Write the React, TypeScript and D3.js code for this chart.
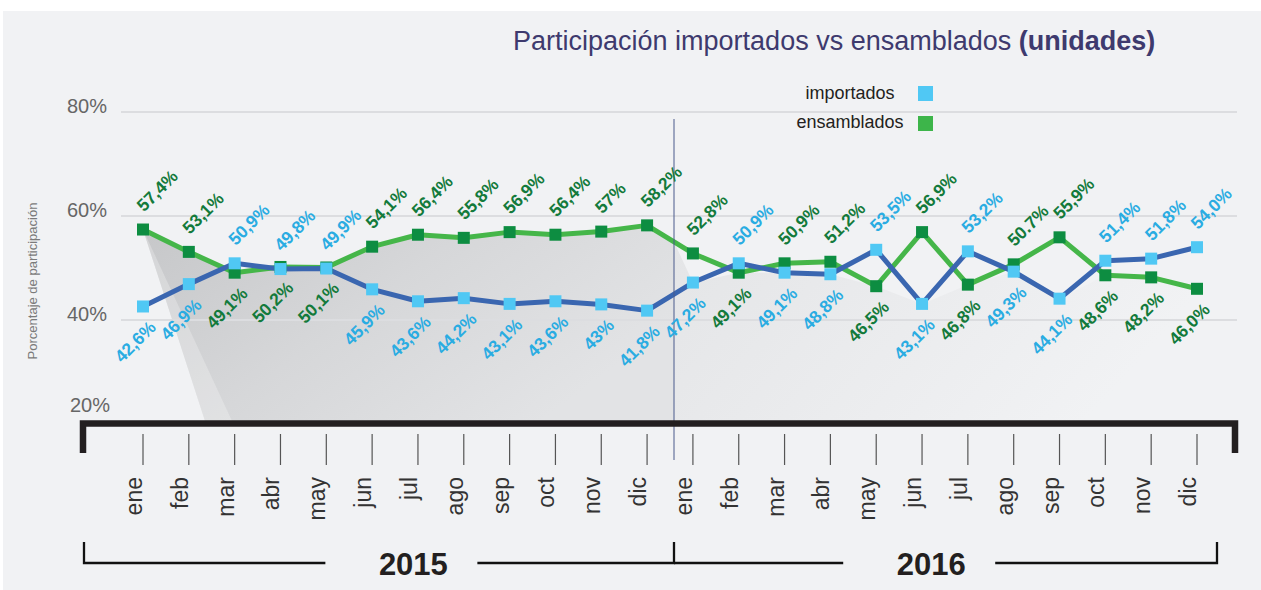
import React from 'react';
import * as d3 from 'd3';

const meses = ['ene', 'feb', 'mar', 'abr', 'may', 'jun', 'jul', 'ago', 'sep', 'oct', 'nov', 'dic'];
const anios = ['2015', '2016'];

const importados = [
  42.6, 46.9, 50.9, 49.8, 49.9, 45.9, 43.6, 44.2, 43.1, 43.6, 43.0, 41.8,
  47.2, 50.9, 49.1, 48.8, 53.5, 43.1, 53.2, 49.3, 44.1, 51.4, 51.8, 54.0,
];
const ensamblados = [
  57.4, 53.1, 49.1, 50.2, 50.1, 54.1, 56.4, 55.8, 56.9, 56.4, 57.0, 58.2,
  52.8, 49.1, 50.9, 51.2, 46.5, 56.9, 46.8, 50.7, 55.9, 48.6, 48.2, 46.0,
];
const importadosEtiquetas = [
  '42,6%', '46,9%', '50,9%', '49,8%', '49,9%', '45,9%', '43,6%', '44,2%', '43,1%', '43,6%', '43%', '41,8%',
  '47,2%', '50,9%', '49,1%', '48,8%', '53,5%', '43,1%', '53,2%', '49,3%', '44,1%', '51,4%', '51,8%', '54,0%',
];
const ensambladosEtiquetas = [
  '57,4%', '53,1%', '49,1%', '50,2%', '50,1%', '54,1%', '56,4%', '55,8%', '56,9%', '56,4%', '57%', '58,2%',
  '52,8%', '49,1%', '50,9%', '51,2%', '46,5%', '56,9%', '46,8%', '50.7%', '55,9%', '48,6%', '48,2%', '46,0%',
];
const yTicks = [20, 40, 60, 80];
const gridTicks = [40, 60, 80];

const W = 1261;
const H = 590;
const C = {
  bg: '#f1f2f4',
  grid: '#dcdde0',
  blueLine: '#3a66b0',
  greenLine: '#45b649',
  blueMark: '#50c8f4',
  greenMark: '#0d8d41',
  blueText: '#2aace2',
  greenText: '#137a3b',
  axis: '#231f20',
  title: '#3e3a6e',
};

export default function App() {
  const n = importados.length;
  const x = d3.scaleLinear().domain([0, n - 1]).range([143, 1197]);
  const y = d3.scaleLinear().domain([20, 80]).range([424, 112]);
  const baseY = 421;
  const divX = (x(11) + x(12)) / 2 + 4;

  const line = d3.line<number>().x((_, i) => x(i)).y((d) => y(d));

  const g0 = [x(0), y(ensamblados[0])] as [number, number];
  const t = (divX - x(11)) / (x(12) - x(11));
  const divYg = y(ensamblados[11]) + t * (y(ensamblados[12]) - y(ensamblados[11]));
  const poly2015: [number, number][] = [
    ...ensamblados.slice(0, 12).map((v, i) => [x(i), y(v)] as [number, number]),
    [divX, divYg],
    [divX, baseY],
    [g0[0] + 62, baseY],
  ];
  const wedge: [number, number][] = [g0, [g0[0] + 89, baseY], [g0[0] + 62, baseY]];
  const poly2016: [number, number][] = [
    [divX, divYg],
    ...ensamblados.slice(12).map((v, i) => [x(i + 12), Math.max(y(v), y(importados[i + 12]))] as [number, number]),
    [x(n - 1), baseY],
    [divX, baseY],
  ];
  const area = d3.line<[number, number]>().x((d) => d[0]).y((d) => d[1]);

  const blueAbove = importados.map((v, i) => v > ensamblados[i] || i === 3 || i === 4);
  const ms = 12;

  const labelFont = { fontFamily: '"Liberation Sans", Arial, sans-serif', fontWeight: 'bold', fontSize: 17.5 };

  const renderLabel = (txt: string, i: number, v: number, above: boolean, color: string, key: string) => {
    const px = x(i);
    const py = y(v);
    if (above) {
      const ax = px + 1;
      const ay = py - 17;
      return (
        <text key={key} x={ax} y={ay} transform={`rotate(-45 ${ax} ${ay})`} fill={color} textAnchor="start" style={labelFont}>
          {txt}
        </text>
      );
    }
    const ax = px + 14;
    const ay = py + 22;
    return (
      <text key={key} x={ax} y={ay} transform={`rotate(-45 ${ax} ${ay})`} fill={color} textAnchor="end" style={labelFont}>
        {txt}
      </text>
    );
  };

  const yearInfo = [
    { label: anios[0], x0: x(0) - 59, x1: divX, c: x(5.9), leftLeg: true, rightLeg: true },
    { label: anios[1], x0: divX, x1: x(n - 1) + 20, c: x(17.2), leftLeg: false, rightLeg: true },
  ];
  const bracketY = 563;

  return (
    <svg width={W} height={H} style={{ position: 'absolute', left: 0, top: 0, display: 'block' }}>
      <defs>
        <linearGradient id="sh1" x1="0" y1="0" x2="1" y2="0.5">
          <stop offset="0" stopColor="#c6c7c9" />
          <stop offset="0.5" stopColor="#d6d7d9" />
          <stop offset="1" stopColor="#e2e3e5" />
        </linearGradient>
        <linearGradient id="sh2" x1="0" y1="0" x2="1" y2="0.3">
          <stop offset="0" stopColor="#e4e5e7" />
          <stop offset="1" stopColor="#f1f2f4" />
        </linearGradient>
      </defs>
      <rect x={3} y={11} width={W - 3} height={H - 11} fill={C.bg} />

      <text x={513} y={50} fill={C.title} style={{ fontFamily: '"Liberation Sans", Arial, sans-serif', fontSize: 27 }}>
        Participación importados vs ensamblados <tspan fontWeight="bold">(unidades)</tspan>
      </text>

      <path d={area(poly2016) + 'Z'} fill="url(#sh2)" />
      <path d={area(poly2015) + 'Z'} fill="url(#sh1)" />
      <path d={area(wedge) + 'Z'} fill="#ffffff" opacity={0.25} />

      {gridTicks.map((v) => (
        <line key={v} x1={x(0) - 22} x2={x(n - 1) + 40} y1={y(v)} y2={y(v)} stroke={C.grid} strokeWidth={2} />
      ))}
      {yTicks.map((v) => (
        <text
          key={'yt' + v}
          x={v === 20 ? 110 : 107}
          y={Math.min(y(v) + 1, baseY - 9)}
          textAnchor="end"
          fill="#666"
          style={{ fontFamily: '"Liberation Sans", Arial, sans-serif', fontSize: 20 }}
        >
          {v}%
        </text>
      ))}
      <text
        x={37}
        y={281}
        transform="rotate(-90 37 281)"
        textAnchor="middle"
        fill="#7a7a7a"
        style={{ fontFamily: '"Liberation Sans", Arial, sans-serif', fontSize: 13 }}
      >
        Porcentaje de participación
      </text>

      <text x={850} y={99} textAnchor="middle" fill={C.axis} style={{ fontFamily: '"Liberation Sans Narrow", Arial, sans-serif', fontSize: 18 }}>
        importados
      </text>
      <rect x={918} y={86} width={15} height={15} fill={C.blueMark} />
      <text x={850} y={128} textAnchor="middle" fill={C.axis} style={{ fontFamily: '"Liberation Sans Narrow", Arial, sans-serif', fontSize: 18 }}>
        ensamblados
      </text>
      <rect x={918} y={116} width={15} height={15} fill="#3db54a" />

      <path d={line(ensamblados) || ''} fill="none" stroke={C.greenLine} strokeWidth={5} strokeLinejoin="round" />
      <path d={line(importados) || ''} fill="none" stroke={C.blueLine} strokeWidth={5} strokeLinejoin="round" />

      <line x1={divX} x2={divX} y1={119} y2={460} stroke="#4a5b8c" strokeWidth={1} />

      {ensamblados.map((v, i) => (
        <rect key={'gm' + i} x={x(i) - ms / 2} y={y(v) - ms / 2} width={ms} height={ms} fill={C.greenMark} />
      ))}
      {importados.map((v, i) => (
        <rect key={'bm' + i} x={x(i) - ms / 2} y={y(v) - ms / 2} width={ms} height={ms} fill={C.blueMark} />
      ))}

      {ensamblados.map((v, i) => renderLabel(ensambladosEtiquetas[i], i, v, !blueAbove[i], C.greenText, 'gl' + i))}
      {importados.map((v, i) => renderLabel(importadosEtiquetas[i], i, v, blueAbove[i], C.blueText, 'bl' + i))}

      <path
        d={`M${x(0) - 60},453 V${baseY + 2.5} H${x(n - 1) + 38} V453`}
        fill="none"
        stroke={C.axis}
        strokeWidth={6.5}
        strokeLinejoin="miter"
      />
      {importados.map((_, i) => (
        <line key={'tk' + i} x1={x(i)} x2={x(i)} y1={434} y2={465} stroke="#555" strokeWidth={1.2} />
      ))}
      {importados.map((_, i) => {
        const tx = x(i) - 1;
        const ty = 477;
        return (
          <text
            key={'ml' + i}
            x={tx}
            y={ty}
            transform={`rotate(-90 ${tx} ${ty})`}
            textAnchor="end"
            fill="#333"
            style={{ fontFamily: '"Liberation Sans Narrow", Arial, sans-serif', fontSize: 23 }}
          >
            {meses[i % 12]}
          </text>
        );
      })}

      {yearInfo.map((yr) => (
        <g key={yr.label}>
          <path
            d={`M${yr.x0},${yr.leftLeg ? 542 : bracketY} V${bracketY} H${yr.c - 88}`}
            fill="none"
            stroke="#111"
            strokeWidth={2.3}
          />
          <path
            d={`M${yr.c + 64},${bracketY} H${yr.x1} V${yr.rightLeg ? 542 : bracketY}`}
            fill="none"
            stroke="#111"
            strokeWidth={2.3}
          />
          <text
            x={yr.c}
            y={575}
            textAnchor="middle"
            fill={C.axis}
            style={{ fontFamily: '"Liberation Sans", Arial, sans-serif', fontWeight: 'bold', fontSize: 31 }}
          >
            {yr.label}
          </text>
        </g>
      ))}
    </svg>
  );
}
